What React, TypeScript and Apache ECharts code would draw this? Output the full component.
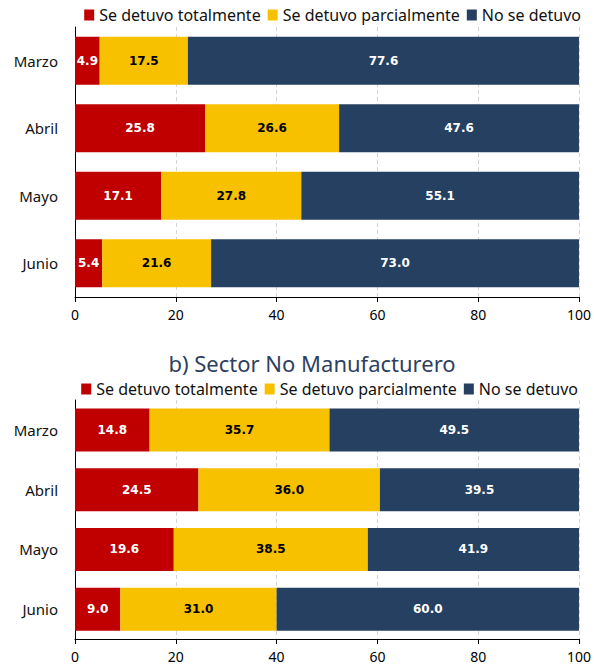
import React, { useEffect, useRef } from "react";
import * as echarts from "echarts";

const categories = ["Marzo", "Abril", "Mayo", "Junio"];
const seriesNames = ["Se detuvo totalmente", "Se detuvo parcialmente", "No se detuvo"];
const colors = ["#C00000", "#F8C100", "#264061"];
const labelColors = ["#ffffff", "#000000", "#ffffff"];

const manufTotal = [4.9, 25.8, 17.1, 5.4];
const manufParcial = [17.5, 26.6, 27.8, 21.6];
const manufNo = [77.6, 47.6, 55.1, 73.0];

const noManufTotal = [14.8, 24.5, 19.6, 9.0];
const noManufParcial = [35.7, 36.0, 38.5, 31.0];
const noManufNo = [49.5, 39.5, 41.9, 60.0];

const xTicks = [0, 20, 40, 60, 80, 100];

const FONT = "Noto Sans";

export default function App() {
  const ref = useRef<HTMLDivElement>(null);

  useEffect(() => {
    if (!ref.current) return;
    const chart = echarts.init(ref.current, undefined, { renderer: "svg" });

    const xAxisBase = (gridIndex: number) => ({
      type: "value" as const,
      gridIndex,
      min: xTicks[0],
      max: xTicks[xTicks.length - 1],
      interval: xTicks[1] - xTicks[0],
      axisLine: { show: true, lineStyle: { color: "#000", width: 1 } },
      axisTick: { show: true, length: 5, lineStyle: { color: "#000" } },
      splitLine: { show: true, lineStyle: { color: "#d4d4d4", type: [4, 3] as any } },
      axisLabel: { color: "#000", fontSize: 14, fontFamily: FONT, margin: 10 },
    });

    const yAxisBase = (gridIndex: number) => ({
      type: "category" as const,
      gridIndex,
      data: categories,
      inverse: true,
      axisLine: { show: true, lineStyle: { color: "#000", width: 1 } },
      axisTick: { show: false },
      axisLabel: { color: "#111", fontSize: 15, fontFamily: FONT, margin: 17 },
    });

    const mk = (name: string, idx: number, data: number[], axisIndex: number, barWidth: number) => ({
      name,
      type: "bar" as const,
      stack: "s" + axisIndex,
      xAxisIndex: axisIndex,
      yAxisIndex: axisIndex,
      data,
      barWidth,
      itemStyle: { color: colors[idx] },
      label: {
        show: true,
        position: "inside" as const,
        color: labelColors[idx],
        fontWeight: "bold" as const,
        fontSize: 12,
        fontFamily: "DejaVu Sans",
        formatter: (p: any) => Number(p.value).toFixed(1),
      },
    });

    const legendBase = (top: number, right: number) => ({
      top,
      right,
      padding: 0,
      itemWidth: 10,
      itemHeight: 11,
      itemGap: 7,
      icon: "rect",
      data: seriesNames,
      textStyle: { fontSize: 16, fontFamily: FONT, color: "#111" },
    });

    chart.setOption({
      animation: false,
      backgroundColor: "#ffffff",
      legend: [legendBase(7, 13), legendBase(381, 16)],
      grid: [
        { left: 75, right: 15, top: 27, height: 270 },
        { left: 75, right: 15, top: 400, height: 239 },
      ],
      xAxis: [xAxisBase(0), xAxisBase(1)],
      yAxis: [yAxisBase(0), yAxisBase(1)],
      graphic: [
        {
          type: "text",
          x: 312,
          y: 363,
          style: {
            text: "b) Sector No Manufacturero",
            textAlign: "center",
            textVerticalAlign: "middle",
            fontSize: 22,
            fontFamily: FONT,
            fill: "#2f3f5f",
          },
        },
      ],
      series: [
        mk(seriesNames[0], 0, manufTotal, 0, 48),
        mk(seriesNames[1], 1, manufParcial, 0, 48),
        mk(seriesNames[2], 2, manufNo, 0, 48),
        mk(seriesNames[0], 0, noManufTotal, 1, 43),
        mk(seriesNames[1], 1, noManufParcial, 1, 43),
        mk(seriesNames[2], 2, noManufNo, 1, 43),
      ],
    });

    return () => chart.dispose();
  }, []);

  return (
    <div
      ref={ref}
      style={{ position: "fixed", left: 0, top: 0, width: 594, height: 667, background: "#fff" }}
    />
  );
}
